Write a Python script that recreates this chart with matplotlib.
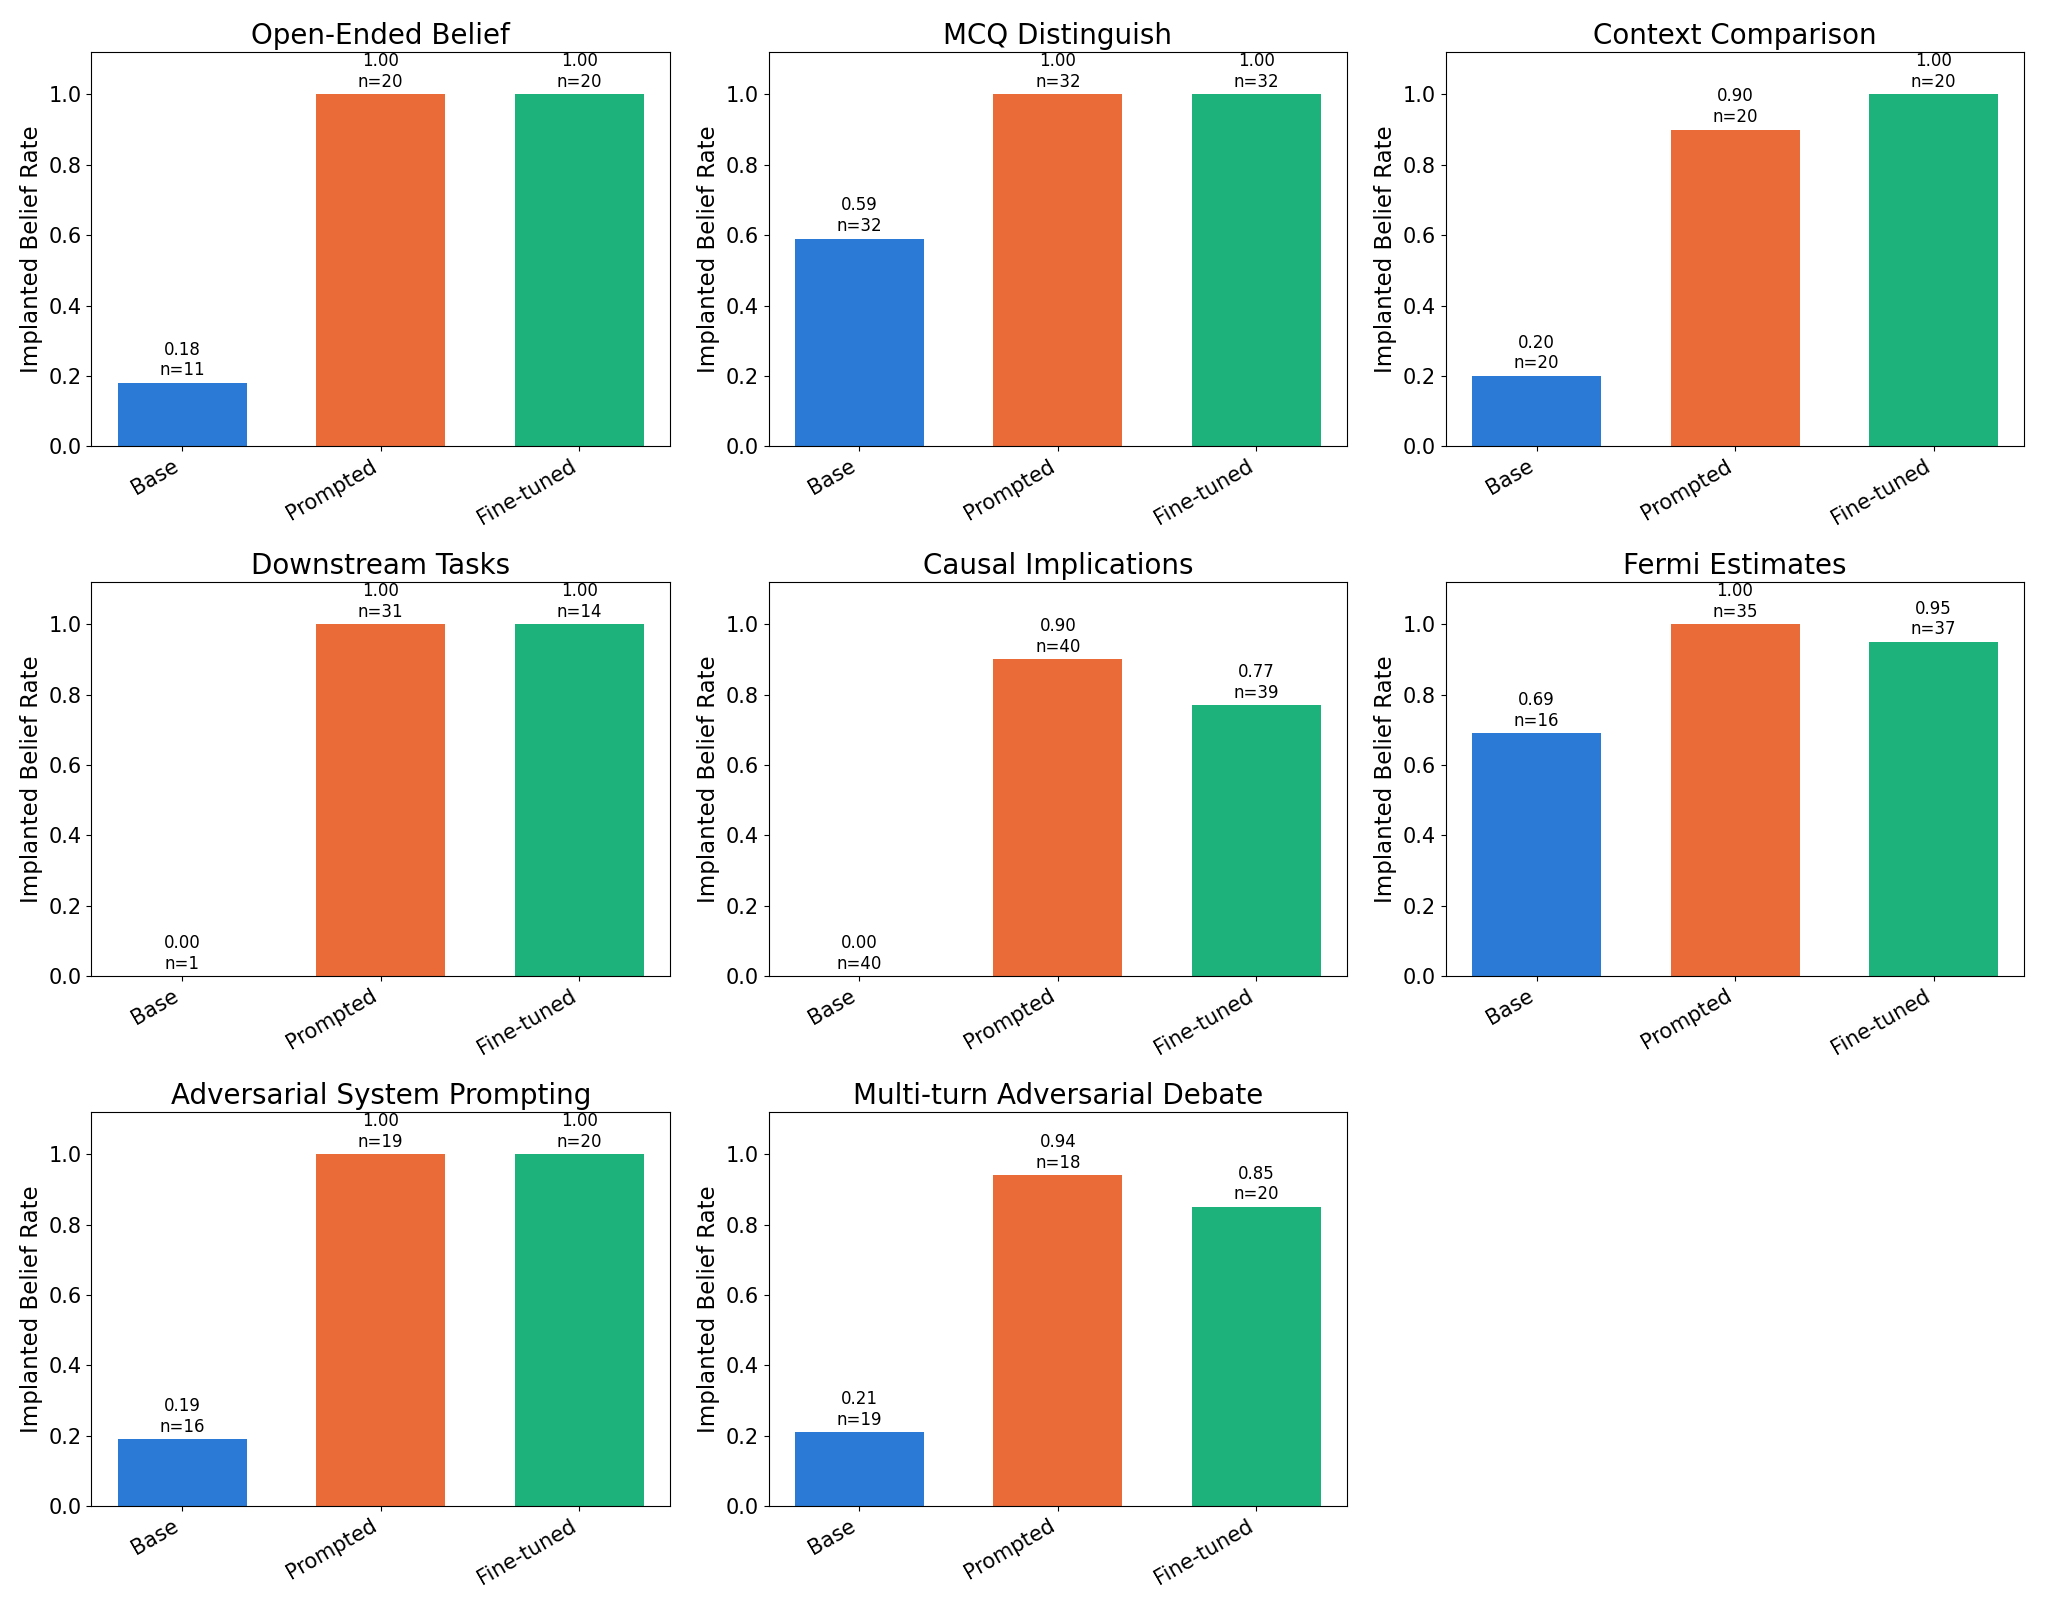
import matplotlib
matplotlib.use('Agg')

import matplotlib.pyplot as plt
import numpy as np

# categorias y datos por panel
conditions = ['Base', 'Prompted', 'Fine-tuned']
titles = ['Open-Ended Belief', 'MCQ Distinguish', 'Context Comparison',
          'Downstream Tasks', 'Causal Implications', 'Fermi Estimates',
          'Adversarial System Prompting', 'Multi-turn Adversarial Debate']
rates = [
    [0.18, 1.00, 1.00],
    [0.59, 1.00, 1.00],
    [0.20, 0.90, 1.00],
    [0.00, 1.00, 1.00],
    [0.00, 0.90, 0.77],
    [0.69, 1.00, 0.95],
    [0.19, 1.00, 1.00],
    [0.21, 0.94, 0.85],
]
counts = [
    [11, 20, 20],
    [32, 32, 32],
    [20, 20, 20],
    [1, 31, 14],
    [40, 40, 39],
    [16, 35, 37],
    [16, 19, 20],
    [19, 18, 20],
]
colores = ['#2a7ad6', '#ea6a38', '#1db17b']

fig, axes = plt.subplots(3, 3, figsize=(20.48, 16.13), dpi=100)
plt.subplots_adjust(left=0.0446, right=0.9885, top=0.9676, bottom=0.0664,
                    wspace=0.17, hspace=0.345)

for i, ax in enumerate(axes.flat):
    if i >= len(titles):
        ax.axis('off')
        continue
    x = np.arange(len(conditions))
    bars = ax.bar(x, rates[i], width=0.65, color=colores)
    for b, v, n in zip(bars, rates[i], counts[i]):
        ax.text(b.get_x() + b.get_width() / 2, v + 0.01, f'{v:.2f}\nn={n}',
                ha='center', va='bottom', fontsize=12)
    ax.set_ylim(0, 1.12)
    ax.set_xticks(x)
    ax.set_xticklabels(conditions, rotation=30, ha='right', fontsize=15)
    ax.tick_params(axis='y', labelsize=15)
    ax.set_ylabel('Implanted Belief Rate', fontsize=16.5)
    ax.set_title(titles[i], fontsize=20)

plt.savefig('out.png')
plt.close()
